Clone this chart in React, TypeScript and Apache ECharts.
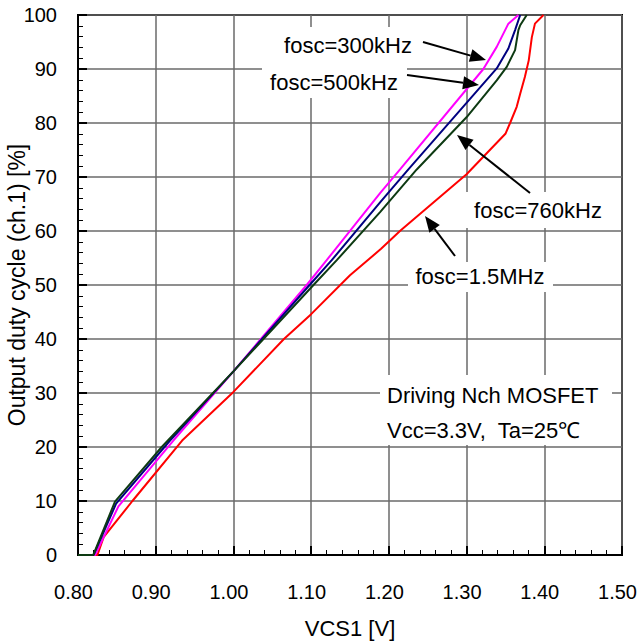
import React, { useEffect, useRef } from "react";
import * as echarts from "echarts";

// fosc = 300 kHz (magenta)
const vcs300 = [0.8, 0.822, 0.834, 0.852, 0.9227, 1.0, 1.0943, 1.12, 1.1887, 1.2144, 1.3216, 1.3388, 1.3538, 1.3667];
const duty300 = [0, 0, 3.6, 9, 21.2, 34, 50, 54.6, 67, 71.4, 90, 94.1, 98.4, 100];

// fosc = 500 kHz (navy)
const vcs500 = [0.8, 0.82, 0.849, 0.9184, 1.0, 1.098, 1.1265, 1.1887, 1.2251, 1.3388, 1.3538, 1.3624, 1.369];
const duty500 = [0, 0, 9.5, 21.2, 34, 50, 54.6, 65.3, 71.4, 90.1, 93.8, 97.2, 100];

// fosc = 760 kHz (dark green)
const vcs760 = [0.8, 0.8197, 0.8476, 0.9077, 1.0, 1.103, 1.133, 1.1887, 1.2359, 1.3002, 1.3388, 1.3517, 1.3624, 1.3667, 1.369, 1.3774];
const duty760 = [0, 0, 9.9, 20, 34, 50, 54.6, 63.5, 71.4, 81.1, 87.9, 90.4, 93.5, 97.2, 98.1, 100];

// fosc = 1.5 MHz (red)
const vcs1500 = [0.8, 0.825, 0.833, 0.87, 0.934, 1.0, 1.065, 1.1, 1.15, 1.19, 1.215, 1.3, 1.35, 1.356, 1.3645, 1.369, 1.375, 1.38, 1.384, 1.388, 1.399];
const duty1500 = [0, 0, 3.3, 10, 21.2, 30.2, 40, 44.6, 51.8, 56.7, 60.1, 70.5, 78, 80, 83, 85.4, 88.5, 91.6, 95.9, 98.4, 100];

const seriesNames = ["fosc=300kHz", "fosc=500kHz", "fosc=760kHz", "fosc=1.5MHz"];
const noteLines = ["Driving Nch MOSFET", "Vcc=3.3V,  Ta=25\u2103"];
const xAxisName = "VCS1 [V]";
const yAxisName = "Output duty cycle (ch.1) [%]";

const FONT = "'Liberation Sans', Arial, sans-serif";

const zip = (xs: number[], ys: number[]) => xs.map((x, i) => [x, ys[i]]);

function arrow(x1: number, y1: number, x2: number, y2: number) {
  const dx = x2 - x1, dy = y2 - y1;
  const L = Math.hypot(dx, dy);
  const ux = dx / L, uy = dy / L;
  const hl = 16, hw = 6.5;
  const bx = x2 - ux * hl, by = y2 - uy * hl;
  return [
    { type: "line", z: 110, shape: { x1, y1, x2: bx, y2: by }, style: { stroke: "#000", lineWidth: 2 } },
    {
      type: "polygon", z: 110,
      shape: { points: [[x2, y2], [bx - uy * hw, by + ux * hw], [bx + uy * hw, by - ux * hw]] },
      style: { fill: "#000" },
    },
  ];
}

function box(x: number, y: number, w: number, h: number) {
  return { type: "rect", z: 100, shape: { x, y, width: w, height: h }, style: { fill: "#fff" } };
}

function label(text: string, x: number, y: number, align = "center") {
  return {
    type: "text", z: 105, x, y,
    style: { text, fontSize: 22, fontFamily: FONT, fill: "#000", align, verticalAlign: "middle" },
  };
}

export default function App() {
  const ref = useRef<HTMLDivElement>(null);
  useEffect(() => {
    if (!ref.current) return;
    const chart = echarts.init(ref.current, null, { renderer: "svg" });
    const mkSeries = (name: string, xs: number[], ys: number[], color: string) => ({
      name, type: "line", data: zip(xs, ys), showSymbol: false, symbol: "none",
      lineStyle: { color, width: 2 }, itemStyle: { color },
    });
    chart.setOption({
      animation: false,
      backgroundColor: "#fff",
      grid: {
        left: 78, right: 17, top: 15, bottom: 89, show: true, borderColor: "#000", borderWidth: 2,
        containLabel: false, outerBoundsMode: "none",
      },
      xAxis: {
        type: "value", min: 0.8, max: 1.5, interval: 0.1,
        name: xAxisName, nameLocation: "middle", nameGap: 62, nameMoveOverlap: false,
        nameTextStyle: { fontSize: 22, fontFamily: FONT, color: "#000" },
        axisLine: { show: true, onZero: false, lineStyle: { color: "#000", width: 2 } },
        axisTick: { show: true, inside: true, length: 9, lineStyle: { color: "#000", width: 2 } },
        minorTick: { show: true, splitNumber: 5, length: 5, lineStyle: { color: "#000", width: 1 } },
        splitLine: { show: true, lineStyle: { color: "#6a6a6a", width: 1.5 } },
        axisLabel: {
          margin: 27, fontSize: 20, fontFamily: FONT, color: "#000", padding: [0, 9, 0, 0],
          formatter: (v: number) => v.toFixed(2),
        },
      },
      yAxis: {
        type: "value", min: 0, max: 100, interval: 10,
        name: yAxisName, nameLocation: "middle", nameGap: 50, nameRotate: 90, nameMoveOverlap: false,
        nameTextStyle: { fontSize: 23, fontFamily: FONT, color: "#000" },
        axisLine: { show: true, lineStyle: { color: "#000", width: 2 } },
        axisTick: { show: true, inside: true, length: 9, lineStyle: { color: "#000", width: 2 } },
        minorTick: { show: true, splitNumber: 5, length: 5, lineStyle: { color: "#000", width: 1 } },
        splitLine: { show: true, lineStyle: { color: "#6a6a6a", width: 1.5 } },
        axisLabel: { margin: 21, fontSize: 20, fontFamily: FONT, color: "#000" },
      },
      series: [
        mkSeries(seriesNames[3], vcs1500, duty1500, "#ff0000"),
        mkSeries(seriesNames[0], vcs300, duty300, "#ff00ff"),
        mkSeries(seriesNames[1], vcs500, duty500, "#000080"),
        mkSeries(seriesNames[2], vcs760, duty760, "#0d3a12"),
      ],
      graphic: [
        box(276, 27, 144, 36),
        box(262, 63, 145, 35),
        box(462, 192, 150, 36),
        box(408, 262, 145, 30),
        box(380, 375, 232, 70),
        label(seriesNames[0], 348, 45),
        label(seriesNames[1], 334, 82),
        label(seriesNames[2], 538, 210),
        label(seriesNames[3], 480, 276),
        label(noteLines[0], 387, 395, "left"),
        label(noteLines[1], 387, 430, "left"),
        ...arrow(423, 42, 486, 60),
        ...arrow(407, 75, 479, 85),
        ...arrow(530, 193, 457, 135),
        ...arrow(455, 256, 425, 216),
      ],
    });
    return () => chart.dispose();
  }, []);
  return <div ref={ref} style={{ position: "fixed", left: 0, top: 0, width: 639, height: 644 }} />;
}
